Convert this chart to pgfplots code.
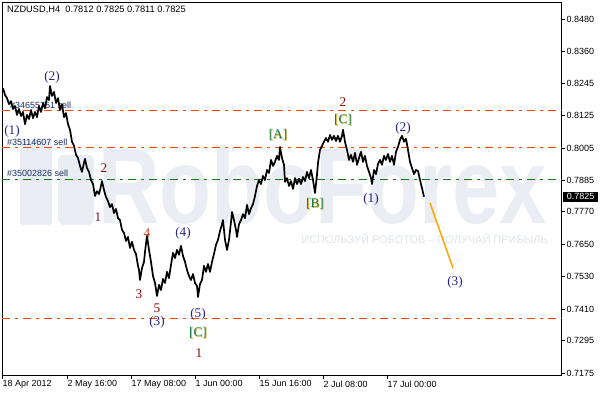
\documentclass[border=0pt]{standalone}
\usepackage{pgfplots}
\pgfplotsset{compat=1.18}
\usepackage{fontspec}
\setmainfont{Liberation Sans}
\newfontfamily\wavefont{Liberation Serif}
\definecolor{ordc}{RGB}{255,69,0}
\definecolor{grnl}{RGB}{20,120,20}
\definecolor{navyl}{RGB}{35,35,140}
\definecolor{redl}{RGB}{139,10,10}
\definecolor{maroonl}{RGB}{120,10,60}
\definecolor{brl}{RGB}{195,60,30}
\definecolor{grl}{RGB}{20,125,70}
\definecolor{goldl}{RGB}{215,170,30}
\definecolor{wm}{RGB}{234,238,244}
\definecolor{wm2}{RGB}{222,227,235}
\definecolor{sellc}{RGB}{25,45,100}
\definecolor{projc}{RGB}{255,165,0}
\newcommand\wl[4]{\node[text=#1, font=\wavefont\fontsize{13.3}{14}\selectfont, inner sep=0pt] at (axis cs:#2,#3) {#4};}
\newcommand\bl[3]{\node[text=goldl, font=\wavefont\fontsize{13.3}{14}\selectfont, inner sep=0pt] at ([xshift=0.7bp,yshift=-0.7bp]axis cs:#1,#2) {#3};\node[text=grl, font=\wavefont\fontsize{13.3}{14}\selectfont, inner sep=0pt] at (axis cs:#1,#2) {#3};}
\begin{document}
\begin{tikzpicture}
\useasboundingbox (-2bp,-18.5bp) rectangle (599bp,375.5bp);
\begin{axis}[
  at={(0,0)}, anchor=south west,
  scale only axis, width=559.5bp, height=373.5bp,
  xmin=2, xmax=561.5, ymin=0.71656, ymax=0.85438,
  clip=false,
  axis line style={line width=0.8bp, black},
  tick style={line width=0.8bp, black},
  tick align=outside,
  major tick length=3bp,
  xtick pos=left, ytick pos=right,
  xtick={2,67,131,195,259,323,387},
  xticklabels={18 Apr 2012, 2 May 16:00, 17 May 08:00, 1 Jun 00:00, 15 Jun 16:00, 2 Jul 08:00, 17 Jul 00:00},
  ytick={0.7175,0.7295,0.7410,0.7530,0.7650,0.7770,0.7885,0.8005,0.8125,0.8245,0.8360,0.8480},
  yticklabels={0.7175,0.7295,0.7410,0.7530,0.7650,0.7770,0.7885,0.8005,0.8125,0.8245,0.8360,0.8480},
  yticklabel pos=right,
  x tick label style={font=\fontsize{9}{10}\selectfont, anchor=north west, inner sep=0pt, xshift=0.5bp, yshift=-2bp},
  y tick label style={font=\fontsize{9}{10}\selectfont, anchor=west, inner sep=0pt, xshift=2bp},
]
% watermark logo and text
\fill[wm, rounded corners=3bp] (axis cs:20,0.8038) rectangle (axis cs:52,0.7721);
\fill[wm, rounded corners=6bp] (axis cs:58,0.7980) rectangle (axis cs:94,0.7721);
\node[text=wm, font=\bfseries\fontsize{108}{108}\selectfont, xscale=0.79, anchor=base west, inner sep=0pt] at (axis cs:98,0.7728) {RoboForex};
\node[text=wm2, font=\fontsize{11}{12}\selectfont, anchor=east, inner sep=0pt] at (axis cs:548,0.7669) {ИСПОЛЬЗУЙ РОБОТОВ – ПОЛУЧАЙ ПРИБЫЛЬ};
% level lines
\addplot[ordc, line width=1bp, dash pattern=on 8bp off 5bp on 3bp off 5bp] coordinates {(2,0.8145) (561.5,0.8145)};
\addplot[ordc, line width=1bp, dash pattern=on 8bp off 5bp on 3bp off 5bp] coordinates {(2,0.8008) (561.5,0.8008)};
\addplot[grnl, line width=1bp, dash pattern=on 8bp off 5bp on 3bp off 5bp] coordinates {(2,0.7890) (561.5,0.7890)};
\addplot[ordc, line width=1bp, dash pattern=on 8bp off 5bp on 3bp off 5bp] coordinates {(2,0.7377) (561.5,0.7377)};
% order labels
\node[text=sellc, font=\fontsize{9}{10}\selectfont, anchor=west, inner sep=0pt] at (axis cs:10,0.8164) {\#34655751 sell};
\node[text=sellc, font=\fontsize{9}{10}\selectfont, anchor=west, inner sep=0pt] at (axis cs:7,0.8027) {\#35114607 sell};
\node[text=sellc, font=\fontsize{9}{10}\selectfont, anchor=west, inner sep=0pt] at (axis cs:7,0.7913) {\#35002826 sell};
% price
\addplot[black, line width=1.7bp, line join=round] coordinates {
(3,0.8226) (5,0.8201) (7,0.8189) (9,0.8167) (11,0.8178) (13,0.8149) (15,0.8160) (17,0.8127) (19,0.8149) (21,0.8123)
(23,0.8138) (25,0.8093) (27,0.8127) (29,0.8112) (31,0.8145) (33,0.8115) (35,0.8138) (37,0.8119) (39,0.8160) (41,0.8138)
(43,0.8171) (45,0.8152) (47,0.8193) (49,0.8182) (50,0.8234) (52,0.8197) (54,0.8212) (56,0.8171) (58,0.8189) (60,0.8145)
(62,0.8167) (64,0.8119) (66,0.8134) (68,0.8093) (70,0.8072) (72,0.8028) (74,0.8013) (76,0.7980) (78,0.7968) (80,0.7939)
(82,0.7917) (84,0.7950) (85,0.7965) (87,0.7931) (89,0.7917) (91,0.7887) (93,0.7872) (95,0.7828) (97,0.7846) (99,0.7835)
(101,0.7865) (102,0.7883) (104,0.7850) (106,0.7824) (108,0.7809) (110,0.7787) (112,0.7798) (114,0.7765) (116,0.7780) (118,0.7746)
(120,0.7739) (122,0.7703) (124,0.7692) (126,0.7662) (128,0.7677) (130,0.7636) (132,0.7659) (134,0.7629) (136,0.7614) (138,0.7570)
(139,0.7555) (140,0.7518) (142,0.7562) (144,0.7585) (145,0.7622) (147,0.7681) (149,0.7629) (151,0.7585) (153,0.7533) (155,0.7507)
(157,0.7459) (159,0.7500) (161,0.7481) (163,0.7522) (165,0.7507) (167,0.7548) (169,0.7525) (171,0.7574) (173,0.7618) (175,0.7599)
(177,0.7629) (179,0.7611) (181,0.7644) (183,0.7607) (185,0.7585) (187,0.7555) (189,0.7533) (191,0.7518) (193,0.7540) (195,0.7507)
(197,0.7496) (198,0.7455) (200,0.7503) (202,0.7518) (204,0.7570) (206,0.7548) (208,0.7577) (210,0.7548) (212,0.7585) (214,0.7614)
(216,0.7648) (218,0.7666) (220,0.7699) (222,0.7724) (223,0.7739) (225,0.7666) (227,0.7629) (229,0.7666) (231,0.7732) (232,0.7769)
(234,0.7739) (236,0.7703) (237,0.7677) (239,0.7724) (241,0.7739) (243,0.7761) (245,0.7746) (247,0.7795) (249,0.7761) (251,0.7783)
(253,0.7798) (255,0.7828) (257,0.7865) (259,0.7887) (261,0.7872) (263,0.7902) (265,0.7887) (267,0.7924) (269,0.7913) (271,0.7961)
(273,0.7939) (275,0.7954) (277,0.7976) (279,0.7961) (280,0.8009) (282,0.7968) (284,0.7943) (285,0.7880) (287,0.7894) (289,0.7865)
(291,0.7883) (293,0.7854) (295,0.7894) (297,0.7872) (299,0.7891) (301,0.7872) (303,0.7898) (305,0.7883) (307,0.7917) (309,0.7894)
(311,0.7924) (313,0.7887) (315,0.7839) (317,0.7906) (318,0.7950) (320,0.7998) (322,0.8013) (324,0.8028) (326,0.8042) (328,0.8028)
(330,0.8053) (332,0.8035) (334,0.8050) (336,0.8031) (338,0.8050) (340,0.8028) (342,0.8050) (343,0.8072) (345,0.8028) (347,0.7998)
(349,0.7961) (351,0.7980) (353,0.7954) (355,0.7987) (357,0.7943) (359,0.7968) (361,0.7991) (363,0.7954) (365,0.7976) (367,0.7939)
(369,0.7917) (371,0.7894) (372,0.7872) (374,0.7924) (376,0.7909) (378,0.7946) (380,0.7961) (382,0.7943) (384,0.7976) (386,0.7961)
(388,0.7983) (390,0.7954) (392,0.7976) (394,0.7943) (396,0.7991) (398,0.8009) (400,0.8035) (402,0.8050) (404,0.8028) (406,0.8039)
(408,0.7998) (410,0.7954) (412,0.7931) (414,0.7909) (416,0.7924) (418,0.7920) (420,0.7887) (422,0.7857) (424,0.7825)
};
% projection
\addplot[projc, line width=1.5bp] coordinates {(430,0.7802) (453,0.7562)};
% wave labels
\wl{navyl}{52}{0.8267}{(2)}
\wl{navyl}{12}{0.8068}{(1)}
\wl{redl}{104}{0.7931}{2}
\wl{maroonl}{98}{0.7750}{1}
\wl{brl}{147}{0.7691}{4}
\wl{redl}{139}{0.7466}{3}
\wl{redl}{157}{0.7415}{5}
\wl{navyl}{157}{0.7363}{(3)}
\wl{navyl}{183}{0.7691}{(4)}
\wl{navyl}{198}{0.7393}{(5)}
\bl{198}{0.7322}{[C]}
\wl{redl}{199}{0.7249}{1}
\bl{278}{0.8053}{[A]}
\wl{redl}{343}{0.8175}{2}
\bl{343}{0.8108}{[C]}
\bl{315}{0.7798}{[B]}
\wl{navyl}{371}{0.7817}{(1)}
\wl{navyl}{403}{0.8079}{(2)}
\wl{navyl}{455}{0.7511}{(3)}
% title and price tag
\node[anchor=west, font=\fontsize{9.3}{10}\selectfont, inner sep=0pt] at (axis cs:7,0.8514) {NZDUSD,H4\ \ 0.7812 0.7825 0.7811 0.7825};
\node[fill=black, text=white, anchor=west, inner sep=0pt, minimum height=10bp, minimum width=35bp, font=\fontsize{9}{10}\selectfont] at ([xshift=1.5bp]axis cs:561.5,0.7825) {0.7825};
\end{axis}
\end{tikzpicture}
\end{document}
